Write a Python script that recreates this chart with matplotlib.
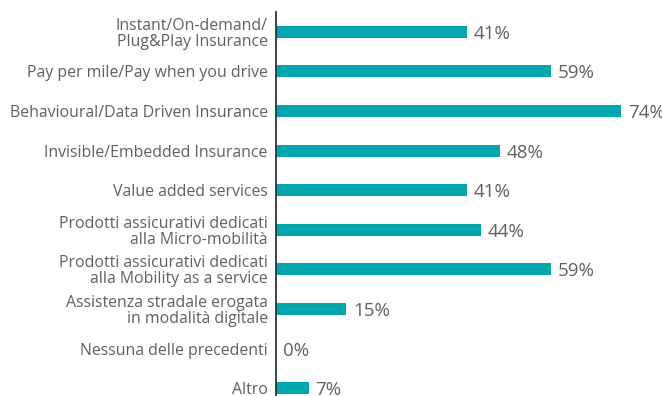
import matplotlib
matplotlib.use("Agg")
import matplotlib.pyplot as plt

categories = [
    "Instant/On-demand/\nPlug&Play Insurance",
    "Pay per mile/Pay when you drive",
    "Behavioural/Data Driven Insurance",
    "Invisible/Embedded Insurance",
    "Value added services",
    "Prodotti assicurativi dedicati\nalla Micro-mobilità",
    "Prodotti assicurativi dedicati\nalla Mobility as a service",
    "Assistenza stradale erogata\nin modalità digitale",
    "Nessuna delle precedenti",
    "Altro",
]
values = [41, 59, 74, 48, 41, 44, 59, 15, 0, 7]

BAR = "#00A8AD"
TXT = "#606060"

W, H = 662, 396
fig = plt.figure(figsize=(W / 100, H / 100), dpi=100)
# axes: left at x=276px, width for 0..80 -> 373px; top 12px, bottom 408px (below figure)
ax = fig.add_axes([276 / W, (H - 408) / H, 373 / W, 396 / H])
ypos = list(range(len(categories)))
ax.barh(ypos, values, height=0.3, color=BAR)
ax.set_xlim(0, 80)
ax.set_ylim(len(categories) - 0.5, -0.5)

for s in ["top", "right", "bottom"]:
    ax.spines[s].set_visible(False)
ax.spines["left"].set_color("#333333")
ax.spines["left"].set_linewidth(1.3)
ax.set_xticks([])
ax.set_yticks(ypos)
ax.set_yticklabels(categories, fontsize=11.4, color=TXT, family="Open Sans",
                   linespacing=1.0)
ax.tick_params(axis="y", length=0, pad=6)

for y, v in zip(ypos, values):
    ax.annotate(f"{v}%", xy=(v, y), xytext=(5, -1.5), textcoords="offset points",
                ha="left", va="center", fontsize=13.5, color=TXT,
                family="Open Sans", annotation_clip=False)

fig.savefig("out.png", dpi=100)
